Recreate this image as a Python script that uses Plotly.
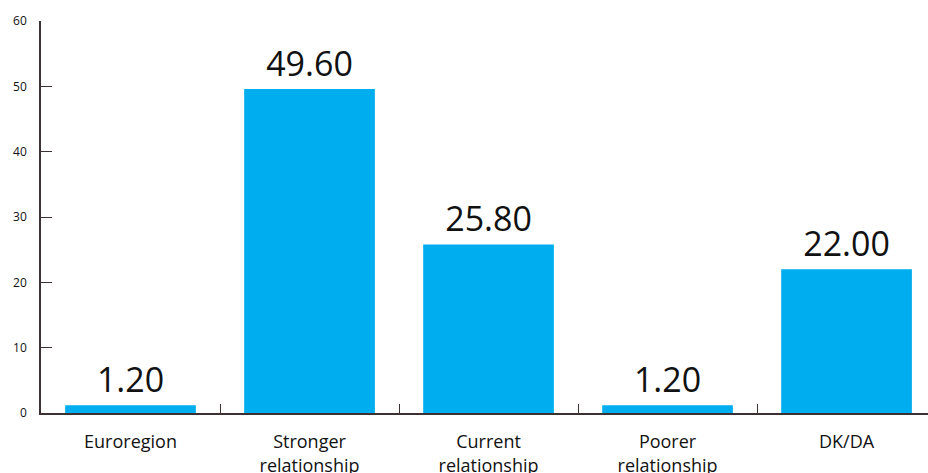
import plotly.graph_objects as go

categories = ["Euroregion", "Stronger<br>relationship", "Current<br>relationship",
              "Poorer<br>relationship", "DK/DA"]
values = [1.20, 49.60, 25.80, 1.20, 22.00]
y_ticks = [0, 10, 20, 30, 40, 50, 60]

axis_color = "#3b3133"
font_family = "Open Sans, Noto Sans, sans-serif"

fig = go.Figure(
    go.Bar(
        x=categories,
        y=values,
        marker=dict(color="#00ADEE", line=dict(width=0)),
        width=0.73,
        text=values,
        texttemplate="%{y:.2f}",
        textposition="outside",
        textfont=dict(size=34, color="#111111", family=font_family),
        cliponaxis=False,
    )
)

fig.update_layout(
    width=928,
    height=473,
    margin=dict(l=41, r=0, t=21, b=60),
    paper_bgcolor="white",
    plot_bgcolor="white",
    showlegend=False,
    font=dict(family=font_family, color="#111111"),
    bargap=0.27,
)

fig.update_xaxes(
    type="category",
    range=[-0.5, 4.455],
    tickson="boundaries",
    ticks="inside",
    ticklen=9,
    tickwidth=1,
    tickcolor=axis_color,
    showline=True,
    linecolor=axis_color,
    linewidth=1.5,
    showgrid=False,
    tickfont=dict(size=18, color="#111111"),
    automargin=False,
    ticklabelstandoff=12,
)

fig.update_yaxes(
    range=[0, 60],
    tickvals=y_ticks,
    ticks="inside",
    ticklen=11,
    tickwidth=1,
    tickcolor=axis_color,
    showline=True,
    linecolor=axis_color,
    linewidth=1.5,
    showgrid=False,
    zeroline=False,
    tickfont=dict(size=12, color="#111111"),
    automargin=False,
    ticklabelstandoff=10,
)

fig.write_html("out.html")
